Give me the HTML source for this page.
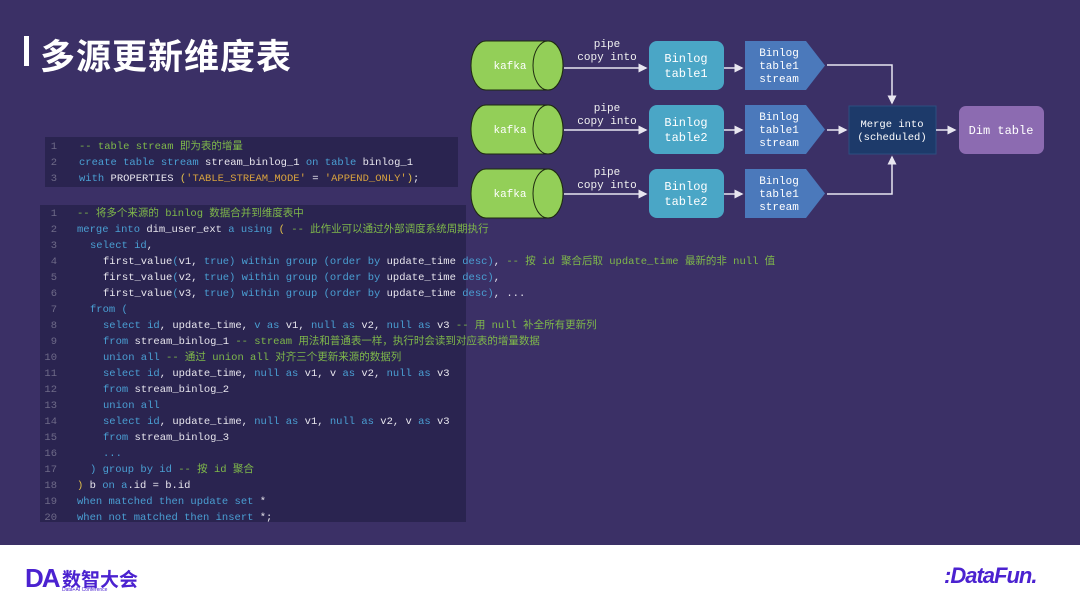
<!DOCTYPE html>
<html><head><meta charset="utf-8"><style>
*{margin:0;padding:0;box-sizing:border-box}
body{width:1080px;height:602px;position:relative;overflow:hidden;background:#3b3066;font-family:"Liberation Sans","Noto Sans CJK SC",sans-serif}
.title{position:absolute;left:40px;top:29px;color:#fff;font-size:35px;font-weight:bold;letter-spacing:1px}
.bar{position:absolute;left:24px;top:36px;width:5px;height:30px;background:#fff}
.code{position:absolute;background:#2a2450;font-family:"Liberation Mono","Noto Sans CJK SC",monospace;font-size:10.5px;color:#e8e6ee}
.ln{position:absolute;white-space:pre;line-height:16px}
.n{position:absolute;color:#6e6a88;width:20px;text-align:right}
.k{color:#4a9fd3}.c{color:#7fb84a}.s{color:#d8a23e}.y{color:#e2c04a}
.foot{position:absolute;left:0;top:545px;width:1080px;height:57px;background:#fff}
.dia{position:absolute;left:0;top:0}
</style></head><body>
<div class="bar"></div>
<div class="title">多源更新维度表</div>

<div class="code" style="left:45px;top:137px;width:413px;height:50px">
<div class="ln" style="top:2px"><span class="n" style="left:-8px">1</span><span style="position:absolute;left:34px" class="c">-- table stream 即为表的增量</span></div>
<div class="ln" style="top:18px"><span class="n" style="left:-8px">2</span><span style="position:absolute;left:34px"><span class="k">create table stream</span> stream_binlog_1 <span class="k">on table</span> binlog_1</span></div>
<div class="ln" style="top:34px"><span class="n" style="left:-8px">3</span><span style="position:absolute;left:34px"><span class="k">with</span> PROPERTIES <span class="y">(</span><span class="s">'TABLE_STREAM_MODE'</span> = <span class="s">'APPEND_ONLY'</span><span class="y">)</span>;</span></div>
</div>

<div class="code" style="left:40px;top:205px;width:426px;height:317px">
<div class="ln" style="top:1px"><span class="n" style="left:-3px">1</span><span style="position:absolute;left:37px" class="c">-- 将多个来源的 binlog 数据合并到维度表中</span></div>
<div class="ln" style="top:17px"><span class="n" style="left:-3px">2</span><span style="position:absolute;left:37px"><span class="k">merge into</span> dim_user_ext <span class="k">a using</span> <span class="y">(</span> <span class="c">-- 此作业可以通过外部调度系统周期执行</span></span></div>
<div class="ln" style="top:33px"><span class="n" style="left:-3px">3</span><span style="position:absolute;left:50px"><span class="k">select id</span>,</span></div>
<div class="ln" style="top:49px"><span class="n" style="left:-3px">4</span><span style="position:absolute;left:63px">first_value<span class="k">(</span>v1, <span class="k">true)</span> <span class="k">within group (order by</span> update_time <span class="k">desc)</span>, <span class="c">-- 按 id 聚合后取 update_time 最新的非 null 值</span></span></div>
<div class="ln" style="top:65px"><span class="n" style="left:-3px">5</span><span style="position:absolute;left:63px">first_value<span class="k">(</span>v2, <span class="k">true)</span> <span class="k">within group (order by</span> update_time <span class="k">desc)</span>,</span></div>
<div class="ln" style="top:81px"><span class="n" style="left:-3px">6</span><span style="position:absolute;left:63px">first_value<span class="k">(</span>v3, <span class="k">true)</span> <span class="k">within group (order by</span> update_time <span class="k">desc)</span>, ...</span></div>
<div class="ln" style="top:97px"><span class="n" style="left:-3px">7</span><span style="position:absolute;left:50px" class="k">from (</span></div>
<div class="ln" style="top:113px"><span class="n" style="left:-3px">8</span><span style="position:absolute;left:63px"><span class="k">select id</span>, update_time, <span class="k">v as</span> v1, <span class="k">null as</span> v2, <span class="k">null as</span> v3 <span class="c">-- 用 null 补全所有更新列</span></span></div>
<div class="ln" style="top:129px"><span class="n" style="left:-3px">9</span><span style="position:absolute;left:63px"><span class="k">from</span> stream_binlog_1 <span class="c">-- stream 用法和普通表一样，执行时会读到对应表的增量数据</span></span></div>
<div class="ln" style="top:145px"><span class="n" style="left:-3px">10</span><span style="position:absolute;left:63px"><span class="k">union all</span> <span class="c">-- 通过 union all 对齐三个更新来源的数据列</span></span></div>
<div class="ln" style="top:161px"><span class="n" style="left:-3px">11</span><span style="position:absolute;left:63px"><span class="k">select id</span>, update_time, <span class="k">null as</span> v1, v <span class="k">as</span> v2, <span class="k">null as</span> v3</span></div>
<div class="ln" style="top:177px"><span class="n" style="left:-3px">12</span><span style="position:absolute;left:63px"><span class="k">from</span> stream_binlog_2</span></div>
<div class="ln" style="top:193px"><span class="n" style="left:-3px">13</span><span style="position:absolute;left:63px" class="k">union all</span></div>
<div class="ln" style="top:209px"><span class="n" style="left:-3px">14</span><span style="position:absolute;left:63px"><span class="k">select id</span>, update_time, <span class="k">null as</span> v1, <span class="k">null as</span> v2, v <span class="k">as</span> v3</span></div>
<div class="ln" style="top:225px"><span class="n" style="left:-3px">15</span><span style="position:absolute;left:63px"><span class="k">from</span> stream_binlog_3</span></div>
<div class="ln" style="top:241px"><span class="n" style="left:-3px">16</span><span style="position:absolute;left:63px" class="k">...</span></div>
<div class="ln" style="top:257px"><span class="n" style="left:-3px">17</span><span style="position:absolute;left:50px"><span class="k">) group by id</span> <span class="c">-- 按 id 聚合</span></span></div>
<div class="ln" style="top:273px"><span class="n" style="left:-3px">18</span><span style="position:absolute;left:37px"><span class="y">)</span> b <span class="k">on a</span>.id = b.id</span></div>
<div class="ln" style="top:289px"><span class="n" style="left:-3px">19</span><span style="position:absolute;left:37px"><span class="k">when matched then update set</span> *</span></div>
<div class="ln" style="top:305px"><span class="n" style="left:-3px">20</span><span style="position:absolute;left:37px"><span class="k">when not matched then insert</span> *;</span></div>
</div>

<svg class="dia" width="1080" height="545" viewBox="0 0 1080 545" font-family="Liberation Mono, monospace">
<defs><marker id="a" markerWidth="6" markerHeight="6" refX="5" refY="3" orient="auto"><path d="M0,0L6,3L0,6z" fill="#e8e6f0"/></marker></defs>
<g font-size="11" fill="#fff" text-anchor="middle">
<path d="M486,41H548A15,24.5 0 0 1 548,90H486A15,24.5 0 0 1 486,41z" fill="#93cf58" stroke="#1e2a10" stroke-width="1"/>
<ellipse cx="548" cy="65.5" rx="15" ry="24.5" fill="#93cf58" stroke="#1e2a10"/>
<text x="510" y="69">kafka</text>
<text x="607" y="47" fill="#f0f0f0">pipe</text><text x="607" y="60" fill="#f0f0f0">copy into</text>
<line x1="564" y1="68" x2="646" y2="68" stroke="#e8e6f0" stroke-width="1.5" marker-end="url(#a)"/>
<rect x="649" y="41" width="75" height="49" rx="8" fill="#4aa6c6"/>
<text x="686" y="62" font-size="12">Binlog</text><text x="686" y="77" font-size="12">table1</text>
<line x1="724" y1="68" x2="742" y2="68" stroke="#e8e6f0" stroke-width="1.5" marker-end="url(#a)"/>
<path d="M745,41H806L825,65.5L806,90H745z" fill="#4b79bb"/>
<text x="779" y="56">Binlog</text><text x="779" y="69">table1</text><text x="779" y="82">stream</text>
<path d="M486,105H548A15,24.5 0 0 1 548,154H486A15,24.5 0 0 1 486,105z" fill="#93cf58" stroke="#1e2a10"/>
<ellipse cx="548" cy="129.5" rx="15" ry="24.5" fill="#93cf58" stroke="#1e2a10"/>
<text x="510" y="133">kafka</text>
<text x="607" y="111" fill="#f0f0f0">pipe</text><text x="607" y="124" fill="#f0f0f0">copy into</text>
<line x1="564" y1="130" x2="646" y2="130" stroke="#e8e6f0" stroke-width="1.5" marker-end="url(#a)"/>
<rect x="649" y="105" width="75" height="49" rx="8" fill="#4aa6c6"/>
<text x="686" y="126" font-size="12">Binlog</text><text x="686" y="141" font-size="12">table2</text>
<line x1="724" y1="130" x2="742" y2="130" stroke="#e8e6f0" stroke-width="1.5" marker-end="url(#a)"/>
<path d="M745,105H806L825,129.5L806,154H745z" fill="#4b79bb"/>
<text x="779" y="120">Binlog</text><text x="779" y="133">table1</text><text x="779" y="146">stream</text>
<path d="M486,169H548A15,24.5 0 0 1 548,218H486A15,24.5 0 0 1 486,169z" fill="#93cf58" stroke="#1e2a10"/>
<ellipse cx="548" cy="193.5" rx="15" ry="24.5" fill="#93cf58" stroke="#1e2a10"/>
<text x="510" y="197">kafka</text>
<text x="607" y="175" fill="#f0f0f0">pipe</text><text x="607" y="188" fill="#f0f0f0">copy into</text>
<line x1="564" y1="194" x2="646" y2="194" stroke="#e8e6f0" stroke-width="1.5" marker-end="url(#a)"/>
<rect x="649" y="169" width="75" height="49" rx="8" fill="#4aa6c6"/>
<text x="686" y="190" font-size="12">Binlog</text><text x="686" y="205" font-size="12">table2</text>
<line x1="724" y1="194" x2="742" y2="194" stroke="#e8e6f0" stroke-width="1.5" marker-end="url(#a)"/>
<path d="M745,169H806L825,193.5L806,218H745z" fill="#4b79bb"/>
<text x="779" y="184">Binlog</text><text x="779" y="197">table1</text><text x="779" y="210">stream</text>
<polyline points="827,65 892,65 892,103" fill="none" stroke="#e8e6f0" stroke-width="1.5" marker-end="url(#a)"/>
<polyline points="827,194 892,194 892,157" fill="none" stroke="#e8e6f0" stroke-width="1.5" marker-end="url(#a)"/>
<line x1="827" y1="130" x2="846" y2="130" stroke="#e8e6f0" stroke-width="1.5" marker-end="url(#a)"/>
<rect x="849" y="106" width="87" height="48" fill="#1d3a6a" stroke="#2c4e80"/>
<text x="892" y="127" font-size="10.5">Merge into</text><text x="892" y="140" font-size="10.5">(scheduled)</text>
<line x1="936" y1="130" x2="955" y2="130" stroke="#e8e6f0" stroke-width="1.5" marker-end="url(#a)"/>
<rect x="959" y="106" width="85" height="48" rx="7" fill="#8c6bb1"/>
<text x="1001" y="134" font-size="12">Dim table</text>
</g>
</svg>

<div class="foot">
<div style="position:absolute;left:25px;top:18px;color:#4b22d0;font-weight:bold;font-size:26px;letter-spacing:-2px;font-family:'Liberation Sans',sans-serif">DA</div>
<div style="position:absolute;left:62px;top:20px;color:#4b22d0;font-weight:bold;font-size:19px;font-family:'Noto Sans CJK SC',sans-serif">数智大会</div>
<div style="position:absolute;left:62px;top:42px;color:#4b22d0;font-size:5px">Data+AI Conference</div>
<div style="position:absolute;left:944px;top:18px;color:#4b22d0;font-weight:bold;font-style:italic;font-size:22px;letter-spacing:-1px">:DataFun.</div>
</div>
</body></html>
